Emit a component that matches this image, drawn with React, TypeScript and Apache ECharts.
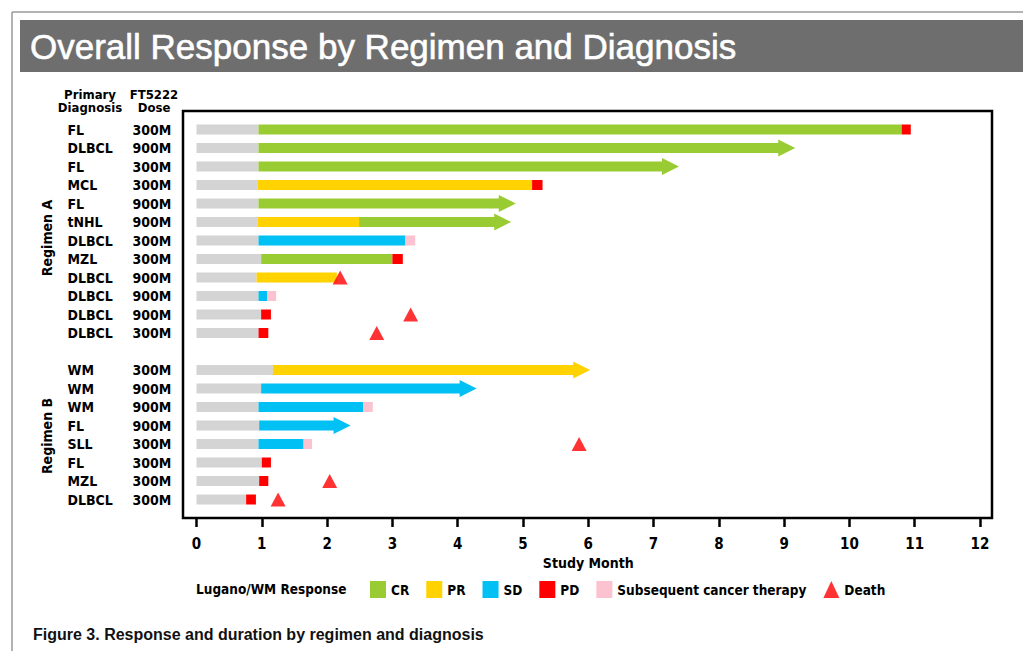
import React, { useEffect, useRef } from "react";
import * as echarts from "echarts";

// ---- data ----
const diagnoses = ["FL", "DLBCL", "FL", "MCL", "FL", "tNHL", "DLBCL", "MZL", "DLBCL", "DLBCL", "DLBCL", "DLBCL",
  "WM", "WM", "WM", "FL", "SLL", "FL", "MZL", "DLBCL"];
const doses = ["300M", "900M", "300M", "300M", "900M", "900M", "300M", "300M", "900M", "900M", "900M", "300M",
  "300M", "900M", "900M", "900M", "300M", "300M", "300M", "300M"];
const regimenACount = 12;
const xTicks = [0, 12];

// screening (grey) end per patient, starting at 0
const screeningEnd = [0.95, 0.95, 0.95, 0.94, 0.95, 0.94, 0.95, 0.99, 0.92, 0.95, 0.99, 0.95,
  1.17, 0.99, 0.95, 0.96, 0.95, 1.0, 0.96, 0.76];
// [patient, start, end, ongoing(arrow)]
const crSegments = [[0, 0.95, 10.8, 0], [1, 0.95, 9.17, 1], [2, 0.95, 7.39, 1], [4, 0.95, 4.89, 1], [5, 2.49, 4.82, 1], [7, 0.99, 3.0, 0]];
const prSegments = [[3, 0.94, 5.14, 0], [5, 0.94, 2.49, 0], [8, 0.92, 2.15, 0], [12, 1.17, 6.03, 1]];
const sdSegments = [[6, 0.95, 3.2, 0], [9, 0.95, 1.08, 0], [13, 0.99, 4.29, 1], [14, 0.95, 2.55, 0], [15, 0.96, 2.36, 1], [16, 0.95, 1.64, 0]];
const pdSegments = [[0, 10.8, 10.94, 0], [3, 5.14, 5.3, 0], [7, 3.0, 3.16, 0], [10, 0.99, 1.14, 0], [11, 0.95, 1.1, 0],
  [17, 1.0, 1.14, 0], [18, 0.96, 1.1, 0], [19, 0.76, 0.91, 0]];
const sctSegments = [[6, 3.2, 3.35, 0], [9, 1.08, 1.22, 0], [14, 2.55, 2.7, 0], [16, 1.64, 1.77, 0]];
// [patient, month]
const deaths = [[8, 2.2], [10, 3.28], [11, 2.76], [16, 5.86], [18, 2.04], [19, 1.25]];

const COLORS = {
  screen: "#D4D4D4",
  CR: "#99CC33",
  PR: "#FFD200",
  SD: "#00C0F4",
  PD: "#FF0000",
  SCT: "#FBC3CF",
  Death: "#FF0000",
};

const FONT = "'DejaVu Sans Condensed', 'DejaVu Sans', sans-serif";

// row index on the category axis (leading blank, blank between regimens, trailing blank)
const rowOf = (p: number) => (p < regimenACount ? p + 1 : p + 2);

function App() {
  const ref = useRef<HTMLDivElement>(null);
  useEffect(() => {
    if (!ref.current) return;
    const chart = echarts.init(ref.current, null, { renderer: "svg" });

    const diagCats: string[] = [""];
    const doseCats: string[] = [""];
    diagnoses.forEach((d, i) => {
      if (i === regimenACount) { diagCats.push(""); doseCats.push(""); }
      diagCats.push(d);
      doseCats.push(doses[i]);
    });
    diagCats.push("");
    doseCats.push("");

    const renderSeg = (params: any, api: any) => {
      const row = api.value(0);
      const start = api.value(1);
      const end = api.value(2);
      const arrow = api.value(3);
      const p0 = api.coord([start, row]);
      const p1 = api.coord([end, row]);
      const h = 10;
      const y = p0[1];
      const style = api.style();
      if (!arrow) {
        return { type: "rect", shape: { x: p0[0], y: y - h / 2, width: p1[0] - p0[0], height: h }, style };
      }
      const headLen = 17;
      const headH = 17;
      const hs = p1[0] - headLen;
      return {
        type: "polygon",
        shape: {
          points: [
            [p0[0], y - h / 2], [hs, y - h / 2], [hs, y - headH / 2], [p1[0], y],
            [hs, y + headH / 2], [hs, y + h / 2], [p0[0], y + h / 2],
          ],
        },
        style,
      };
    };

    const segSeries = (name: string, color: string, segs: number[][]) => ({
      type: "custom",
      name,
      renderItem: renderSeg,
      itemStyle: { color },
      encode: { x: [1, 2], y: 0 },
      data: segs.map((s) => [rowOf(s[0]), s[1], s[2], s[3]]),
      z: 2,
    });

    const option: any = {
      animation: false,
      backgroundColor: "#ffffff",
      grid: { left: 196.5, right: 43, top: 111, height: 407, containLabel: false },
      xAxis: {
        type: "value",
        min: xTicks[0],
        max: xTicks[1],
        interval: 1,
        splitLine: { show: false },
        axisLine: { show: false },
        axisTick: { show: true, length: 9, lineStyle: { color: "#000", width: 2.5 } },
        axisLabel: { margin: 18, color: "#000", fontFamily: FONT, fontWeight: "bold", fontSize: 15 },
        name: "Study Month",
        nameLocation: "middle",
        nameGap: 37,
        nameTextStyle: { color: "#000", fontFamily: FONT, fontWeight: "bold", fontSize: 14 },
      },
      yAxis: [
        {
          type: "category",
          data: diagCats,
          inverse: true,
          boundaryGap: false,
          axisLine: { show: false },
          axisTick: { show: false },
          splitLine: { show: false },
          axisLabel: { align: "left", margin: 129, color: "#000", fontFamily: FONT, fontWeight: "bold", fontSize: 14, interval: 0 },
        },
        {
          type: "category",
          data: doseCats,
          inverse: true,
          position: "left",
          offset: 0,
          boundaryGap: false,
          axisLine: { show: false },
          axisTick: { show: false },
          splitLine: { show: false },
          axisLabel: { align: "left", margin: 64, color: "#000", fontFamily: FONT, fontWeight: "bold", fontSize: 14, interval: 0 },
        },
      ],
      legend: {
        left: 365,
        top: 576,
        itemWidth: 16,
        itemHeight: 17,
        itemGap: 17,
        textStyle: { color: "#000", fontFamily: FONT, fontWeight: "bold", fontSize: 13.5 },
        data: [
          { name: "CR", icon: "rect" },
          { name: "PR", icon: "rect" },
          { name: "SD", icon: "rect" },
          { name: "PD", icon: "rect" },
          { name: "Subsequent cancer therapy", icon: "rect" },
          { name: "Death", icon: "triangle" },
        ],
        selectedMode: false,
      },
      graphic: [
        { type: "line", shape: { x1: 12, y1: 12, x2: 1023, y2: 12 }, style: { stroke: "#9a9a9a", lineWidth: 1.5 } },
        { type: "line", shape: { x1: 12, y1: 12, x2: 12, y2: 651 }, style: { stroke: "#9a9a9a", lineWidth: 1.5 } },
        { type: "rect", shape: { x: 20, y: 20, width: 1003, height: 52 }, style: { fill: "#6E6E6E" } },
        {
          type: "text", x: 30, y: 46,
          style: { text: "Overall Response by Regimen and Diagnosis", fill: "#fff", font: "35px 'Liberation Sans', Arial, sans-serif", textVerticalAlign: "middle", stroke: "#fff", lineWidth: 0.6 },
        },
        { type: "rect", shape: { x: 183, y: 111, width: 809, height: 407 }, style: { fill: "none", stroke: "#000", lineWidth: 2.5 }, z: 10 },
        {
          type: "text", x: 90, y: 101,
          style: { text: "Primary\nDiagnosis", fill: "#000", font: `bold 13px ${FONT}`, textAlign: "center", textVerticalAlign: "middle", lineHeight: 13 },
        },
        {
          type: "text", x: 154, y: 101,
          style: { text: "FT5222\nDose", fill: "#000", font: `bold 13px ${FONT}`, textAlign: "center", textVerticalAlign: "middle", lineHeight: 13 },
        },
        {
          type: "text", x: 47, y: 238, rotation: Math.PI / 2,
          style: { text: "Regimen A", fill: "#000", font: `bold 14px ${FONT}`, textAlign: "center", textVerticalAlign: "middle" },
        },
        {
          type: "text", x: 47, y: 436, rotation: Math.PI / 2,
          style: { text: "Regimen B", fill: "#000", font: `bold 14px ${FONT}`, textAlign: "center", textVerticalAlign: "middle" },
        },
        {
          type: "text", x: 196, y: 589,
          style: { text: "Lugano/WM Response", fill: "#000", font: `bold 13.5px ${FONT}`, textVerticalAlign: "middle" },
        },
        {
          type: "text", x: 33, y: 634,
          style: { text: "Figure 3. Response and duration by regimen and diagnosis", fill: "#111", font: "bold 16px 'Liberation Sans', Arial, sans-serif", textVerticalAlign: "middle" },
        },
      ],
      series: [
        {
          type: "custom",
          name: "Screening",
          renderItem: renderSeg,
          itemStyle: { color: COLORS.screen },
          encode: { x: [1, 2], y: 0 },
          data: screeningEnd.map((e, i) => [rowOf(i), 0, e, 0]),
          z: 1,
        },
        segSeries("CR", COLORS.CR, crSegments),
        segSeries("PR", COLORS.PR, prSegments),
        segSeries("SD", COLORS.SD, sdSegments),
        segSeries("PD", COLORS.PD, pdSegments),
        segSeries("Subsequent cancer therapy", COLORS.SCT, sctSegments),
        {
          type: "scatter",
          name: "Death",
          symbol: "triangle",
          symbolSize: [15, 14],
          itemStyle: { color: COLORS.Death },
          data: deaths.map((d) => [d[1], rowOf(d[0])]),
          z: 3,
        },
      ],
    };
    chart.setOption(option);
    return () => chart.dispose();
  }, []);
  return <div ref={ref} style={{ position: "absolute", left: 0, top: 0, width: 1023, height: 651 }} />;
}

export default App;
